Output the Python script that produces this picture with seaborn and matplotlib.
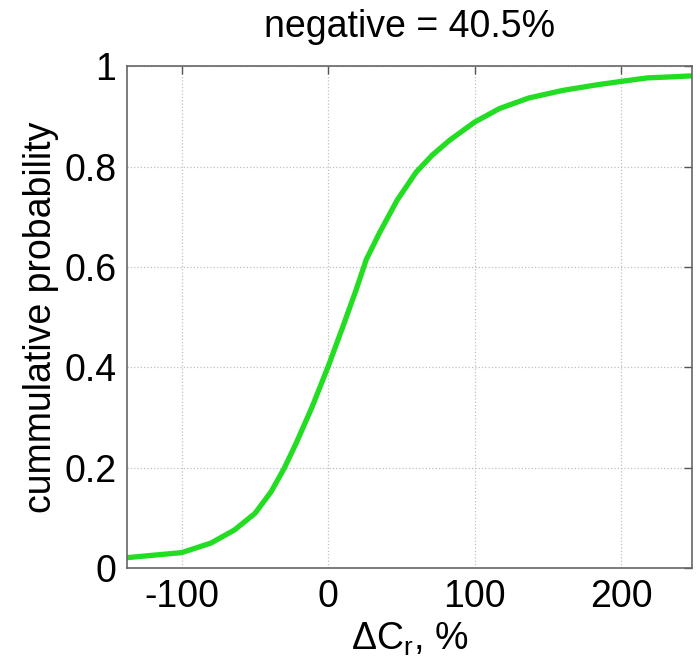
import matplotlib
matplotlib.use("Agg")
import matplotlib.pyplot as plt
import seaborn as sns

# cumulative distribution
delta_cr = [-137, -100, -80, -64, -50, -39, -30, -22, -11, 0, 10, 19, 26, 35,
            47, 60, 71, 83, 100, 117, 137, 160, 183, 200, 218, 234, 248]
cum_prob = [0.021, 0.031, 0.050, 0.076, 0.109, 0.152, 0.199, 0.248, 0.321,
            0.402, 0.481, 0.554, 0.615, 0.668, 0.733, 0.789, 0.823, 0.853,
            0.889, 0.916, 0.937, 0.952, 0.963, 0.970, 0.977, 0.979, 0.981]
x_ticks = [-100, 0, 100, 200]
y_ticks = [0, 0.2, 0.4, 0.6, 0.8, 1]
y_tick_labels = ["0", "0.2", "0.4", "0.6", "0.8", "1"]
negative_share = 40.5

sns.set_style("white")
plt.rcParams["font.family"] = ["Liberation Sans", "DejaVu Sans"]
plt.rcParams["font.size"] = 27
plt.rcParams["axes.unicode_minus"] = False
plt.rcParams["text.color"] = "black"
plt.rcParams["axes.labelcolor"] = "black"
plt.rcParams["xtick.color"] = "black"
plt.rcParams["ytick.color"] = "black"

fig, ax = plt.subplots(figsize=(7, 6.7), dpi=100)
fig.subplots_adjust(left=0.182, right=0.988, bottom=0.152, top=0.901)

sns.lineplot(x=delta_cr, y=cum_prob, color="#22dd22", linewidth=3.8, ax=ax)

ax.set_xlim(-137, 248)
ax.set_ylim(0, 1)
ax.set_xticks(x_ticks)
ax.set_yticks(y_ticks)
ax.set_yticklabels(y_tick_labels)

# matlab-ish look: dotted grid, inward ticks on all sides
ax.grid(True, linestyle=":", color="#c0c0c0", linewidth=0.9)
ax.tick_params(direction="in", length=6, width=1, color="#555555",
               labelcolor="black", top=True, right=True, labelsize=27, pad=8)
for sp in ax.spines.values():
    sp.set_color("#666666")
    sp.set_linewidth(1.2)

ax.set_title(f"negative = {negative_share}%", fontsize=27, pad=21)
ax.set_xlabel(r"ΔC$_\mathregular{r}$, %", fontsize=27, labelpad=4)
ax.set_ylabel("cummulative probability", fontsize=27, labelpad=4)

fig.savefig("out.png", dpi=100)
